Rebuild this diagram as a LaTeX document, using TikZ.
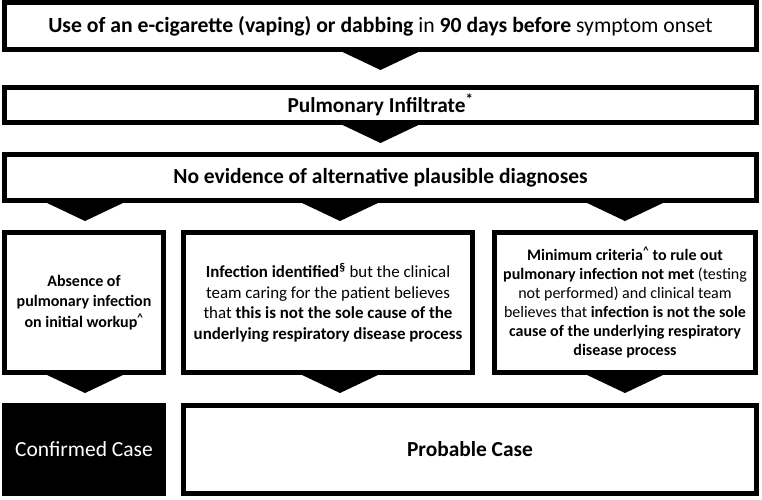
\documentclass[tikz,border=0pt]{standalone}
\usepackage{fontspec}
\setmainfont{Carlito}
\usetikzlibrary{calc}
\tikzset{
  box/.style={draw=black, line width=5pt, fill=white, inner sep=0pt, align=center, text=black},
  chev/.style={fill=black},
}
\newcommand{\chevron}[1]{\fill[chev] ($(#1)+(-40,-1)$) -- ($(#1)+(40,-1)$) -- ($(#1)+(0,18)$) -- cycle;}
\begin{document}
\begin{tikzpicture}[x=1pt,y=-1pt]
\useasboundingbox[fill=white] (0,0) rectangle (762,499);
\node[box, minimum width=752pt, minimum height=47pt, font=\fontsize{21.7}{25}\selectfont] (b1) at (380.5,26)
  {\textbf{Use of an e-cigarette (vaping) or dabbing} in \textbf{90 days before} symptom onset};
\node[box, minimum width=752pt, minimum height=35pt, font=\fontsize{21.3}{25}\selectfont\bfseries] (b2) at (380.5,105)
  {Pulmonary Infiltrate\textsuperscript{*}};
\node[box, minimum width=752pt, minimum height=46pt, font=\fontsize{21.5}{25}\selectfont\bfseries] (b3) at (380.5,177.5)
  {No evidence of alternative plausible diagnoses};
\node[box, minimum width=159pt, minimum height=140pt, font=\fontsize{16}{20.5}\selectfont\bfseries] (l) at (84,302.5)
  {Absence of\\pulmonary infection\\on initial workup\textsuperscript{\textasciicircum}};
\node[box, minimum width=289pt, minimum height=140pt, font=\fontsize{16.9}{20.5}\selectfont] (m) at (328,302.5)
  {\textbf{Infection identified\textsuperscript{§}} but the clinical\\team caring for the patient believes\\that \textbf{this is not the sole cause of the}\\\textbf{underlying respiratory disease process}};
\node[box, minimum width=261pt, minimum height=140pt, font=\fontsize{16}{19}\selectfont] (r) at (625,302.5)
  {\textbf{Minimum criteria\textsuperscript{\textasciicircum} to rule out}\\\textbf{pulmonary infection not met} (testing\\not performed) and clinical team\\believes that \textbf{infection is not the sole}\\\textbf{cause of the underlying respiratory}\\\textbf{disease process}};
\node[box, fill=black, text=white, minimum width=159pt, minimum height=88pt, font=\fontsize{21.5}{25}\selectfont] (c) at (84,449.5)
  {Confirmed Case};
\node[box, minimum width=573pt, minimum height=88pt, font=\fontsize{21.4}{25}\selectfont\bfseries] (p) at (470,449.5)
  {Probable Case};
\coordinate (a1) at (b1.south);
\coordinate (a2) at (b2.south);
\coordinate (a3) at ($(b3.south -| l.south)+(1,0)$);
\coordinate (a4) at ($(b3.south -| m.south)+(12,0)$);
\coordinate (a5) at (b3.south -| r.south);
\coordinate (a6) at ($(l.south)+(1,0)$);
\coordinate (a7) at ($(m.south)+(12,0)$);
\coordinate (a8) at (r.south);
\chevron{a1}
\chevron{a2}
\chevron{a3}
\chevron{a4}
\chevron{a5}
\chevron{a6}
\chevron{a7}
\chevron{a8}
\end{tikzpicture}
\end{document}
